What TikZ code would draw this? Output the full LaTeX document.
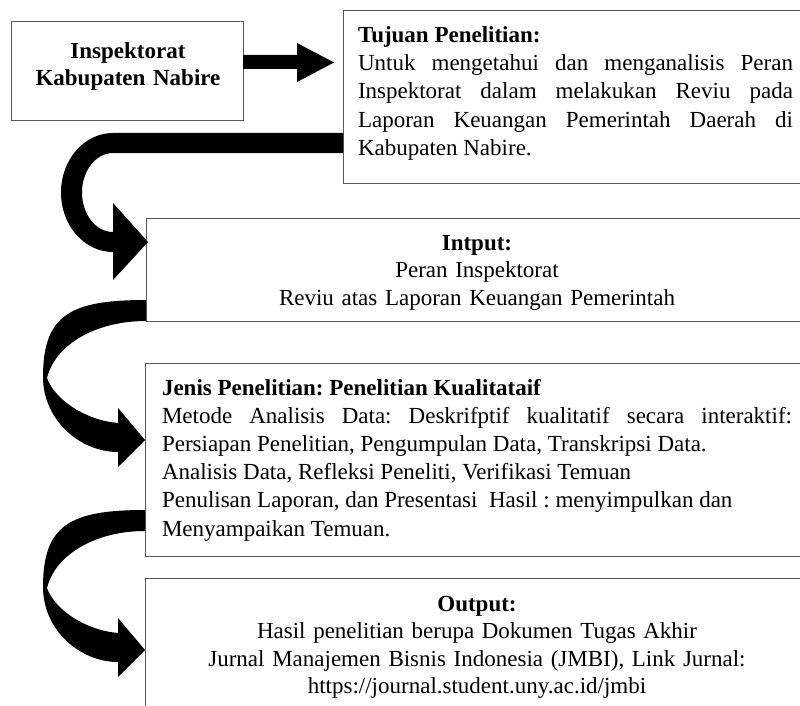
\documentclass[tikz,border=0pt]{standalone}
\usepackage{fontspec}
\setmainfont{Liberation Serif}
\frenchspacing
\begin{document}
\begin{tikzpicture}[x=1pt,y=-1pt,
  box/.style={draw=black!65, line width=1pt, rectangle, inner sep=0pt, outer sep=0pt, anchor=north west},
  txt/.style={inner sep=0pt, outer sep=0pt, text=black},
  bigarrow/.style={fill=black, draw=none}]
\useasboundingbox (0,0) rectangle (800,706);
\clip (0,0) rectangle (800,706);

% boxes
\node[box, minimum width=232pt, minimum height=99pt] (b1) at (11,22) {};
\node[box, minimum width=467pt, minimum height=172pt] (b2) at (343,11) {};
\node[box, minimum width=664pt, minimum height=103pt] (b3) at (146,218) {};
\node[box, minimum width=665pt, minimum height=193pt] (b4) at (145,363) {};
\node[box, minimum width=665pt, minimum height=150pt] (b5) at (145,578) {};

% texts
\node[txt, anchor=base, text width=230pt, align=center, font=\fontsize{23}{27}\selectfont\bfseries] (t1) at (128,59)
  {Inspektorat\\Kabupaten Nabire};
\node[txt, anchor=base west, text width=435pt, align=justify, font=\fontsize{23}{28.2}\selectfont] (t2) at (358,42.5)
  {\textbf{Tujuan Penelitian:}\\
   Untuk mengetahui dan menganalisis Peran\linebreak
   Inspektorat dalam melakukan Reviu pada\linebreak
   Laporan Keuangan Pemerintah Daerah di\linebreak
   Kabupaten Nabire.};
\node[txt, anchor=base, text width=620pt, align=center, font=\fontsize{23}{27.5}\selectfont] (t3) at (477,250)
  {\textbf{Intput:}\\ Peran Inspektorat\\ Reviu atas Laporan Keuangan Pemerintah};
\node[txt, anchor=base west, text width=630pt, align=justify, font=\fontsize{23}{28.2}\selectfont] (t4) at (162,395)
  {\textbf{Jenis Penelitian: Penelitian Kualitataif}\\
   Metode Analisis Data: Deskrifptif kualitatif secara interaktif:\linebreak
   Persiapan Penelitian, Pengumpulan Data, Transkripsi Data.\\
   Analisis Data, Refleksi Peneliti, Verifikasi Temuan\\
   Penulisan Laporan, dan Presentasi\ \ Hasil : menyimpulkan dan\\
   Menyampaikan Temuan.};
\node[txt, anchor=base, text width=620pt, align=center, font=\fontsize{23}{27.3}\selectfont] (t5) at (477,611.5)
  {\textbf{Output:}\\ Hasil penelitian berupa Dokumen Tugas Akhir\\
   Jurnal Manajemen Bisnis Indonesia (JMBI), Link Jurnal:\\
   https://journal.student.uny.ac.id/jmbi};

% straight arrow b1 -> b2
\coordinate (tipA) at (334,62.5);
\fill[bigarrow] (b1.east |- 0,55) -- (297,55) -- (297,43) -- (tipA) -- (297,82) -- (297,69) -- (b1.east |- 0,69) -- cycle;

% U-shaped arrow b2 -> b3
\fill[bigarrow] (b2.west |- 0,133) -- (113,133)
  .. controls (84.3,133) and (61,159.6) .. (61,192.5)
  .. controls (61,225.4) and (84.3,252) .. (113,252)
  -- (113,280) -- ([xshift=2pt]b3.west |- 0,242) -- (113,203) -- (113,232)
  .. controls (95.9,232) and (82,214.3) .. (82,192.5)
  .. controls (82,170.7) and (95.9,153) .. (113,153)
  -- (b2.west |- 0,153) -- cycle;

% curved arrow b3 -> b4
\fill[bigarrow] (b3.west |- 0,300)
  .. controls (70,300) and (43,315) .. (43,377)
  .. controls (43,420) and (80,452) .. (118,452)
  -- (118,467) -- (b4.west |- 0,440) -- (118,408) -- (118,423)
  .. controls (85,420) and (55,400) .. (47,378)
  .. controls (55,345) and (95,321) .. (b3.west |- 0,321)
  -- cycle;

% curved arrow b4 -> b5
\fill[bigarrow] (b4.west |- 0,510)
  .. controls (70,510) and (43,525) .. (43,587)
  .. controls (43,630) and (80,662) .. (118,662)
  -- (118,677) -- (b5.west |- 0,650) -- (118,618) -- (118,633)
  .. controls (85,630) and (55,610) .. (47,588)
  .. controls (55,555) and (95,531) .. (b4.west |- 0,531)
  -- cycle;
\end{tikzpicture}
\end{document}
